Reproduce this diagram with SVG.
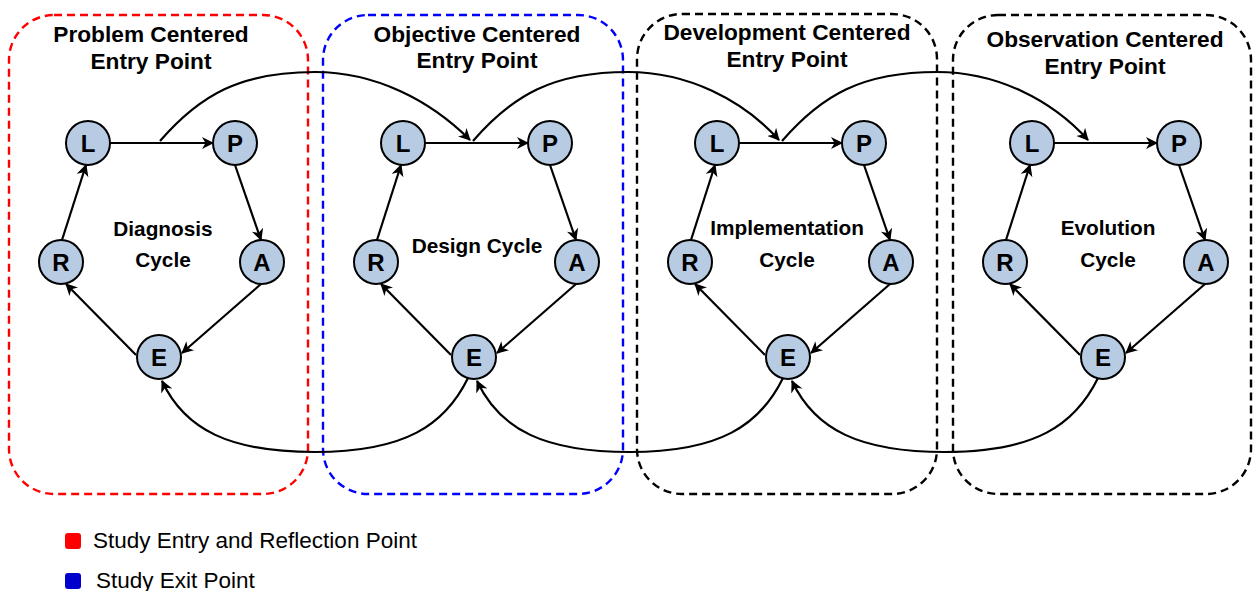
<svg xmlns="http://www.w3.org/2000/svg" width="1253" height="591" viewBox="0 0 1253 591">
<style>
.box{fill:none;stroke-width:2.4;stroke-dasharray:8 5}
.title{font-family:"Liberation Sans",Arial,sans-serif;font-weight:bold;font-size:22.7px;fill:#000;text-anchor:middle}
.cyc{font-family:"Liberation Sans",Arial,sans-serif;font-weight:bold;font-size:20.8px;fill:#000;text-anchor:middle}
.node circle{fill:#b7cbe3;stroke:#000;stroke-width:2}
.node text{font-family:"Liberation Sans",Arial,sans-serif;font-weight:bold;font-size:24px;fill:#000;text-anchor:middle}
.edge{fill:none;stroke:#000;stroke-width:2.2;marker-end:url(#arr)}
.leg{font-family:"Liberation Sans",Arial,sans-serif;font-size:22.5px;fill:#000}
</style>
<defs>
<marker id="arr" viewBox="0 0 12 12" refX="11" refY="6" markerWidth="12" markerHeight="12" markerUnits="userSpaceOnUse" orient="auto">
<path d="M0,0 L12,6 L0,12 L3.5,6 z" fill="#000"/>
</marker>
</defs>
<rect width="1253" height="591" fill="#fff"/>
<g id="boxes">
<g id="box-problem"><rect class="box" x="9" y="15" width="299" height="479" rx="45" stroke="#ff0000"/>
<text class="title" x="151" y="42">Problem Centered</text><text class="title" x="151" y="69">Entry Point</text></g>
<g id="box-objective"><rect class="box" x="323" y="15" width="300" height="479" rx="45" stroke="#0000ff"/>
<text class="title" x="477" y="42">Objective Centered</text><text class="title" x="477" y="68">Entry Point</text></g>
<g id="box-development"><rect class="box" x="637" y="14" width="300" height="480" rx="45" stroke="#000"/>
<text class="title" x="787" y="40">Development Centered</text><text class="title" x="787" y="67">Entry Point</text></g>
<g id="box-observation"><rect class="box" x="953" y="15" width="298" height="479" rx="45" stroke="#000"/>
<text class="title" x="1105" y="47">Observation Centered</text><text class="title" x="1105" y="74">Entry Point</text></g>
</g>
<g id="cycle-labels">
<text class="cyc" x="163" y="236">Diagnosis</text><text class="cyc" x="163" y="267">Cycle</text>
<text class="cyc" x="477" y="253">Design Cycle</text>
<text class="cyc" x="787" y="235">Implementation</text><text class="cyc" x="787" y="267">Cycle</text>
<text class="cyc" x="1108" y="235">Evolution</text><text class="cyc" x="1108" y="267">Cycle</text>
</g>
<g id="connectors">
<g id="cycle1-edges">
<path class="edge" d="M110,143 L213,143"/>
<path class="edge" d="M235,165 L261,240"/>
<path class="edge" d="M261,284 L182,353"/>
<path class="edge" d="M136,355 L66,284"/>
<path class="edge" d="M62,240 L86,165"/>
</g>
<g id="cycle2-edges" transform="translate(315,0)">
<path class="edge" d="M110,143 L213,143"/>
<path class="edge" d="M235,165 L261,240"/>
<path class="edge" d="M261,284 L182,353"/>
<path class="edge" d="M136,355 L66,284"/>
<path class="edge" d="M62,240 L86,165"/>
</g>
<g id="cycle3-edges" transform="translate(629,0)">
<path class="edge" d="M110,143 L213,143"/>
<path class="edge" d="M235,165 L261,240"/>
<path class="edge" d="M261,284 L182,353"/>
<path class="edge" d="M136,355 L66,284"/>
<path class="edge" d="M62,240 L86,165"/>
</g>
<g id="cycle4-edges" transform="translate(944,0)">
<path class="edge" d="M110,143 L213,143"/>
<path class="edge" d="M235,165 L261,240"/>
<path class="edge" d="M261,284 L182,353"/>
<path class="edge" d="M136,355 L66,284"/>
<path class="edge" d="M62,240 L86,165"/>
</g>
<g id="links-top">
<path class="edge" d="M160,141 C200,95 240,72 315,72 C375,72 430,100 470,140"/>
<path class="edge" d="M473,141 C513,95 553,72 628,72 C688,72 743,100 779,140"/>
<path class="edge" d="M782,141 C822,95 862,72 937,72 C997,72 1052,100 1088,140"/>
</g>
<g id="links-bottom">
<path class="edge" d="M468,378 C445,425 405,452 315,452 C230,452 185,430 162,381"/>
<path class="edge" d="M783,378 C760,425 720,452 630,452 C545,452 500,430 477,381"/>
<path class="edge" d="M1098,378 C1075,425 1035,452 945,452 C860,452 815,430 792,381"/>
</g>
</g>
<g id="nodes">
<g id="c1-L" class="node"><circle cx="88" cy="143" r="22"/><text x="88" y="152">L</text></g>
<g id="c1-P" class="node"><circle cx="235" cy="143" r="22"/><text x="235" y="152">P</text></g>
<g id="c1-A" class="node"><circle cx="262" cy="262" r="22"/><text x="262" y="271">A</text></g>
<g id="c1-E" class="node"><circle cx="159" cy="357" r="22"/><text x="159" y="366">E</text></g>
<g id="c1-R" class="node"><circle cx="61" cy="262" r="22"/><text x="61" y="271">R</text></g>
<g id="c2-L" class="node"><circle cx="403" cy="143" r="22"/><text x="403" y="152">L</text></g>
<g id="c2-P" class="node"><circle cx="550" cy="143" r="22"/><text x="550" y="152">P</text></g>
<g id="c2-A" class="node"><circle cx="577" cy="262" r="22"/><text x="577" y="271">A</text></g>
<g id="c2-E" class="node"><circle cx="474" cy="357" r="22"/><text x="474" y="366">E</text></g>
<g id="c2-R" class="node"><circle cx="376" cy="262" r="22"/><text x="376" y="271">R</text></g>
<g id="c3-L" class="node"><circle cx="717" cy="143" r="22"/><text x="717" y="152">L</text></g>
<g id="c3-P" class="node"><circle cx="864" cy="143" r="22"/><text x="864" y="152">P</text></g>
<g id="c3-A" class="node"><circle cx="891" cy="262" r="22"/><text x="891" y="271">A</text></g>
<g id="c3-E" class="node"><circle cx="788" cy="357" r="22"/><text x="788" y="366">E</text></g>
<g id="c3-R" class="node"><circle cx="690" cy="262" r="22"/><text x="690" y="271">R</text></g>
<g id="c4-L" class="node"><circle cx="1032" cy="143" r="22"/><text x="1032" y="152">L</text></g>
<g id="c4-P" class="node"><circle cx="1179" cy="143" r="22"/><text x="1179" y="152">P</text></g>
<g id="c4-A" class="node"><circle cx="1206" cy="262" r="22"/><text x="1206" y="271">A</text></g>
<g id="c4-E" class="node"><circle cx="1103" cy="357" r="22"/><text x="1103" y="366">E</text></g>
<g id="c4-R" class="node"><circle cx="1005" cy="262" r="22"/><text x="1005" y="271">R</text></g>
</g>
<g id="legend">
<rect x="65" y="533" width="16" height="16" rx="3" fill="#ff0000"/>
<text class="leg" x="93" y="548">Study Entry and Reflection Point</text>
<rect x="65" y="573" width="16" height="16" rx="3" fill="#0000cc"/>
<text class="leg" x="96" y="588">Study Exit Point</text>
</g>
</svg>
